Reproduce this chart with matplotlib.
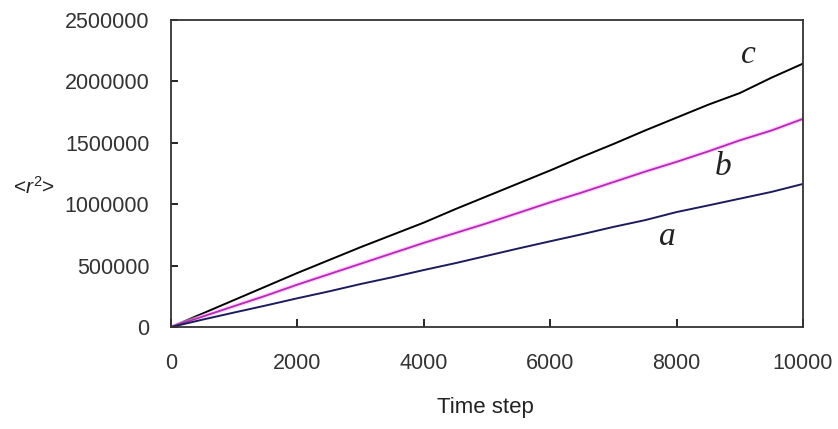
import matplotlib
matplotlib.use("Agg")
import matplotlib.pyplot as plt

steps = [0, 500, 1000, 1500, 2000, 2500, 3000, 3500, 4000, 4500, 5000,
         5500, 6000, 6500, 7000, 7500, 8000, 8500, 9000, 9500, 10000]
series_c = [0, 110000, 220000, 330000, 440000, 545000, 650000, 750000, 850000, 960000, 1065000,
            1170000, 1275000, 1385000, 1490000, 1600000, 1705000, 1810000, 1905000, 2030000, 2145000]
series_b = [0, 85000, 170000, 255000, 345000, 430000, 515000, 600000, 685000, 765000, 845000,
            930000, 1015000, 1095000, 1180000, 1265000, 1345000, 1430000, 1520000, 1600000, 1695000]
series_a = [0, 60000, 118000, 175000, 234000, 290000, 350000, 405000, 464000, 520000, 580000,
            640000, 698000, 755000, 815000, 870000, 936000, 990000, 1045000, 1100000, 1165000]
x_ticks = [0, 2000, 4000, 6000, 8000, 10000]
y_ticks = [0, 500000, 1000000, 1500000, 2000000, 2500000]

plt.rcParams["mathtext.fontset"] = "custom"
plt.rcParams["mathtext.it"] = "Liberation Sans:italic"
plt.rcParams["mathtext.rm"] = "Liberation Sans"

fig = plt.figure(figsize=(8.38, 4.29), dpi=100)
W, H = 838, 429
ax = fig.add_axes([171 / W, 1 - 327 / H, (803 - 171) / W, (327 - 20) / H])

ax.plot(steps, series_c, color="black", lw=1.4)
ax.plot(steps, series_b, color="#f3b8f3", lw=3.2, alpha=0.6)
ax.plot(steps, series_b, color="#b828b8", lw=1.3)
ax.plot(steps, series_a, color="#1c1c5c", lw=1.4)

ax.set_xlim(0, 10000)
ax.set_ylim(0, 2500000)
ax.set_xticks(x_ticks)
ax.set_yticks(y_ticks)
ax.set_xticklabels([str(v) for v in x_ticks])
ax.set_yticklabels([str(v) for v in y_ticks])

for lab in ax.get_xticklabels() + ax.get_yticklabels():
    lab.set_fontfamily("Liberation Sans")
    lab.set_fontsize(15.5)
    lab.set_color("#333333")

ax.tick_params(axis="y", direction="in", length=5, width=1.2, pad=15.5, right=False)
ax.tick_params(axis="x", direction="in", length=6, width=1.2, pad=19, top=False)
for s in ax.spines.values():
    s.set_linewidth(1.3)
    s.set_color("#333333")

ax.text(9130, 2215000, "c", family="Liberation Serif", style="italic", fontsize=24,
        ha="center", va="center", color="#222222")
ax.text(8734, 1303000, "b", family="Liberation Serif", style="italic", fontsize=24,
        ha="center", va="center", color="#222222")
ax.text(7848, 733000, "a", family="Liberation Serif", style="italic", fontsize=24,
        ha="center", va="center", color="#222222")

fig.text(485 / W, 1 - 408 / H, "Time step", family="Liberation Sans", fontsize=16,
         ha="center", va="center", color="#222222")
fig.text(34 / W, 1 - 187 / H, r"<$\mathit{r}^{2}$>", family="Liberation Sans", fontsize=15,
         ha="center", va="center", color="#222222")

fig.savefig("out.png", dpi=100, facecolor="white")
